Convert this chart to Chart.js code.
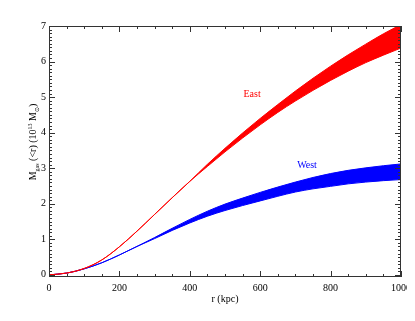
<!DOCTYPE html>
<html>
<head>
<meta charset="utf-8">
<script src="https://cdn.jsdelivr.net/npm/chart.js@4/dist/chart.umd.min.js"></script>
<style>
  html, body { margin: 0; padding: 0; background: #fff; }
  #wrap { width: 415px; height: 321px; overflow: hidden; }
</style>
</head>
<body>
<div id="wrap"><canvas id="massChart" width="407" height="321"></canvas></div>
<script>
// radius (kpc)
var radii = [0, 50, 100, 150, 200, 250, 300, 350, 400, 450, 500, 550, 600, 650, 700, 750, 800, 850, 900, 950, 1000];

// M_gas(<r) in 10^13 Msun, upper and lower edge of each band
var eastHigh = [0, 0.05, 0.18, 0.42, 0.79, 1.23, 1.7, 2.17, 2.63, 3.11, 3.56, 3.99, 4.40, 4.79, 5.17, 5.53, 5.87, 6.19, 6.49, 6.78, 7.04];
var eastLow = [0, 0.05, 0.18, 0.42, 0.79, 1.23, 1.7, 2.17, 2.63, 3.05, 3.46, 3.85, 4.22, 4.57, 4.89, 5.19, 5.47, 5.73, 5.97, 6.18, 6.38];
var westHigh = [0, 0.05, 0.17, 0.34, 0.56, 0.8, 1.05, 1.31, 1.56, 1.79, 1.99, 2.16, 2.32, 2.47, 2.61, 2.74, 2.85, 2.94, 3.01, 3.07, 3.12];
var westLow = [0, 0.05, 0.17, 0.34, 0.56, 0.8, 1.02, 1.25, 1.46, 1.65, 1.81, 1.95, 2.08, 2.21, 2.33, 2.42, 2.49, 2.56, 2.61, 2.65, 2.68];

var xTicks = [0, 200, 400, 600, 800, 1000];
var yTicks = [0, 1, 2, 3, 4, 5, 6, 7];

var FONT = "'Liberation Serif', 'Times New Roman', serif";
var AXIS_COLOR = "#333";

function points(ys) {
    return radii.map(function (r, i) {
        return { x: r, y: ys[i] };
    });
}

function band(high, low, color) {
    return [
        {
            data: points(high),
            borderColor: color,
            borderWidth: 1,
            pointRadius: 0,
            fill: false,
            cubicInterpolationMode: "monotone",
        },
        {
            data: points(low),
            borderColor: color,
            backgroundColor: color,
            borderWidth: 1,
            pointRadius: 0,
            fill: "-1",
            cubicInterpolationMode: "monotone",
        },
    ];
}

// box with inward ticks on all four sides, like the IDL plot
var framePlugin = {
    id: "frame",
    afterDraw: function (chart) {
        var ctx = chart.ctx;
        var a = chart.chartArea;
        var xs = chart.scales.x;
        var ys = chart.scales.y;
        ctx.save();
        ctx.strokeStyle = AXIS_COLOR;
        ctx.lineWidth = 1;
        ctx.strokeRect(a.left + 0.5, a.top + 0.5, a.right - a.left - 1, a.bottom - a.top - 1);
        ctx.beginPath();
        for (var v = 0; v <= 1000; v += 50) {
            var px = Math.round(xs.getPixelForValue(v)) + 0.5;
            var len = v % 200 === 0 ? 6 : 3;
            ctx.moveTo(px, a.bottom);
            ctx.lineTo(px, a.bottom - len);
            ctx.moveTo(px, a.top);
            ctx.lineTo(px, a.top + len);
        }
        for (var k = 0; k <= 70; k++) {
            var py = Math.round(ys.getPixelForValue(k / 10)) + 0.5;
            var l = k % 10 === 0 ? 6 : 3;
            ctx.moveTo(a.left, py);
            ctx.lineTo(a.left + l, py);
            ctx.moveTo(a.right, py);
            ctx.lineTo(a.right - l, py);
        }
        ctx.stroke();
        ctx.restore();
    },
};

// series names and the y title (needs sub/superscripts)
var textPlugin = {
    id: "texts",
    afterDraw: function (chart) {
        var ctx = chart.ctx;
        var xs = chart.scales.x;
        var ys = chart.scales.y;
        ctx.save();
        ctx.font = "10px " + FONT;
        ctx.textAlign = "center";
        ctx.textBaseline = "middle";
        ctx.fillStyle = "#ff0000";
        ctx.fillText("East", xs.getPixelForValue(577), ys.getPixelForValue(5.08));
        ctx.fillStyle = "#0000ff";
        ctx.fillText("West", xs.getPixelForValue(733), ys.getPixelForValue(3.08));

        var parts = [
            { t: "M", size: 10, dy: 0 },
            { t: "gas", size: 6, dy: 2.5 },
            { t: " (<r) (10", size: 10, dy: 0 },
            { t: "13", size: 6, dy: -4 },
            { t: " M", size: 10, dy: 0 },
            { t: "\u2299", size: 6, dy: 2.5 },
            { t: ")", size: 10, dy: 0 },
        ];
        var total = 0;
        parts.forEach(function (p) {
            ctx.font = p.size + "px " + FONT;
            p.w = ctx.measureText(p.t).width;
            total += p.w;
        });
        ctx.translate(36, 142);
        ctx.rotate(-Math.PI / 2);
        ctx.fillStyle = "#000";
        ctx.textAlign = "left";
        ctx.textBaseline = "alphabetic";
        var x = -total / 2;
        parts.forEach(function (p) {
            ctx.font = p.size + "px " + FONT;
            ctx.fillText(p.t, x, p.dy);
            x += p.w;
        });
        ctx.restore();
    },
};

var ctx = document.getElementById("massChart");
new Chart(ctx, {
    type: "line",
    data: {
        datasets: band(eastHigh, eastLow, "#ff0000").concat(band(westHigh, westLow, "#0000ff")),
    },
    options: {
        responsive: false,
        animation: false,
        layout: { padding: { top: 26, right: 6, left: 0, bottom: 0 } },
        plugins: {
            legend: { display: false },
            tooltip: { enabled: false },
        },
        scales: {
            x: {
                type: "linear",
                min: 0,
                max: 1000,
                grid: { display: false, drawTicks: false },
                border: { display: false },
                ticks: {
                    color: "#000",
                    font: { family: FONT, size: 10 },
                    padding: 5,
                    maxRotation: 0,
                    callback: function (v) { return String(v); },
                },
                afterBuildTicks: function (scale) {
                    scale.ticks = xTicks.map(function (v) { return { value: v }; });
                },
                afterFit: function (scale) {
                    scale.height = 44;
                    scale.paddingLeft = 0;
                    scale.paddingRight = 0;
                },
                title: {
                    display: true,
                    text: "r (kpc)",
                    color: "#000",
                    font: { family: FONT, size: 10 },
                    padding: { top: 4, bottom: 16 },
                },
            },
            y: {
                type: "linear",
                min: -0.06,
                max: 7,
                grid: { display: false, drawTicks: false },
                border: { display: false },
                ticks: {
                    color: "#000",
                    font: { family: FONT, size: 10 },
                    padding: 3,
                },
                afterBuildTicks: function (scale) {
                    scale.ticks = yTicks.map(function (v) { return { value: v }; });
                },
                afterFit: function (scale) {
                    scale.width = 49;
                },
            },
        },
    },
    plugins: [framePlugin, textPlugin],
});
</script>
</body>
</html>
